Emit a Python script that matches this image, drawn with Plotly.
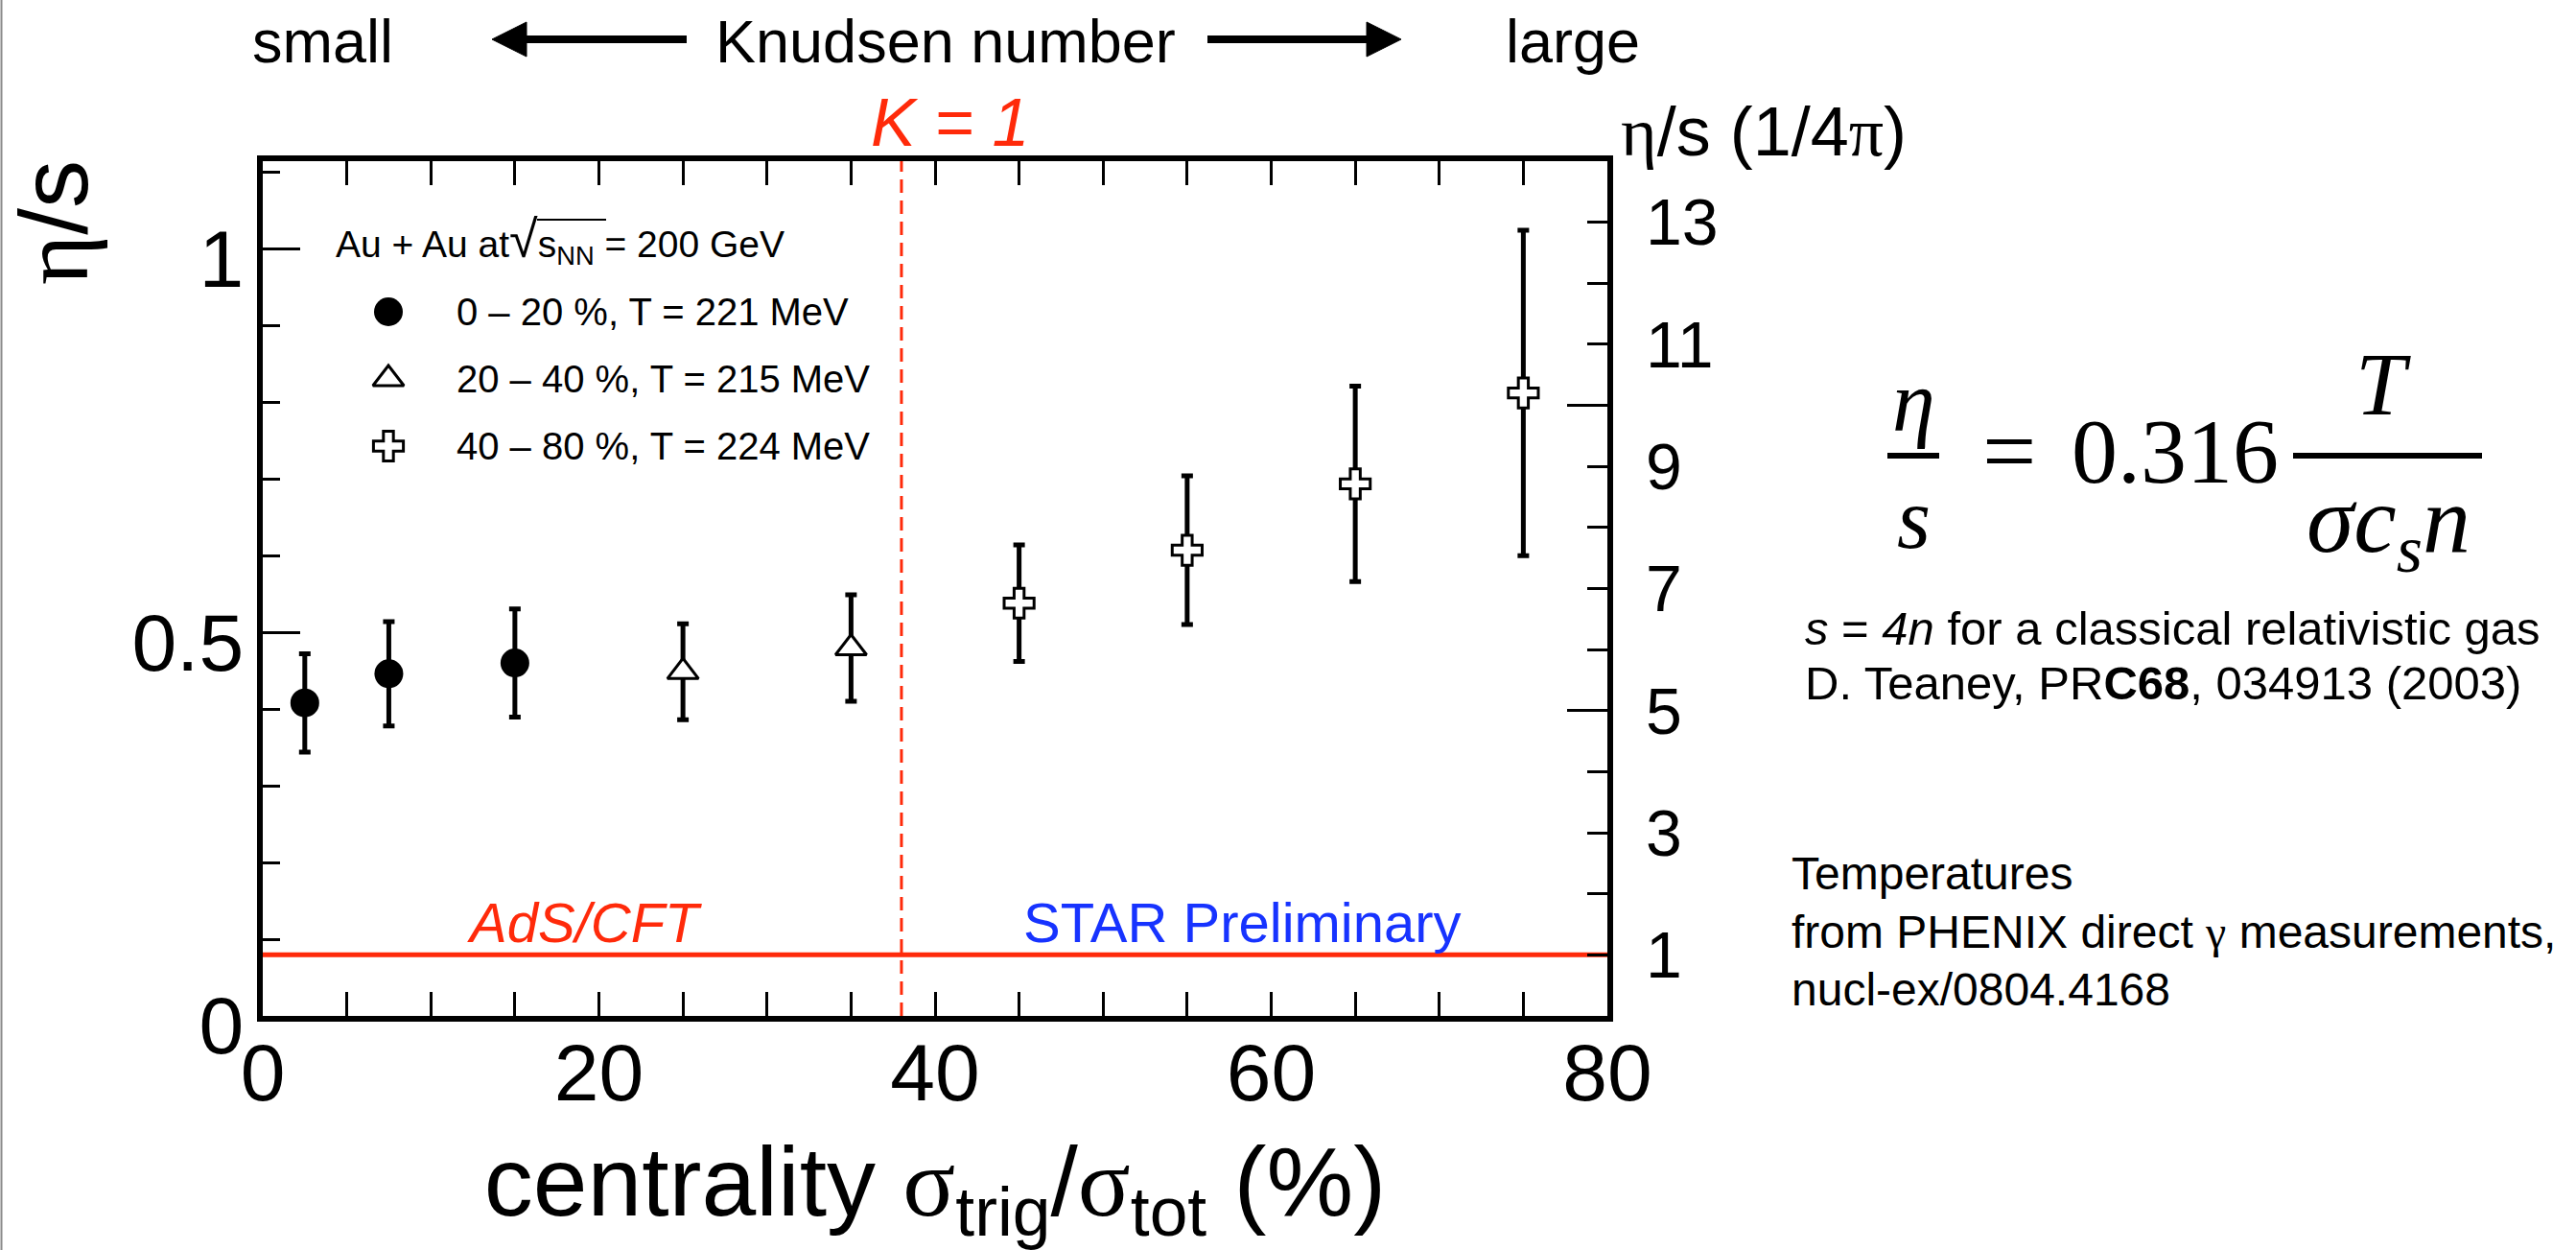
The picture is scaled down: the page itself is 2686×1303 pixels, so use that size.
import numpy as np
import plotly.graph_objects as go

# ---------------- data ----------------
cent_0_20 = [2.5, 7.5, 15.0]
eta_s_0_20 = [0.408, 0.446, 0.460]
err_0_20 = [0.064, 0.068, 0.0705]

cent_20_40 = [25.0, 35.0]
eta_s_20_40 = [0.4485, 0.4795]
err_20_40 = [0.0625, 0.0695]

cent_40_80 = [45.0, 55.0, 65.0, 75.0]
eta_s_40_80 = [0.538, 0.607, 0.6935, 0.812]
err_40_80 = [0.076, 0.097, 0.1275, 0.212]

knudsen_one_cent = 38.0            # K = 1 position
ads_cft_bound = 1.0 / (4.0 * np.pi)  # eta/s = 1/4pi
x_span = [0, 80]

legend_labels = ["0 \u2013 20 %, T = 221 MeV",
                 "20 \u2013 40 %, T = 215 MeV",
                 "40 \u2013 80 %, T = 224 MeV"]

right_tick_vals = [1, 3, 5, 7, 9, 11, 13]
left_tick_vals = [0, 0.5, 1]
left_tick_text = ["0", "0.5", "1"]

# ---------------- layout helpers ----------------
W, H = 2686, 1303
L, R, T, B = 274, 1676, 168, 1059
YMAX = 14.0 / (4.0 * np.pi)
SANS = "Liberation Sans, Arial, Helvetica, sans-serif"
SERIF = "Liberation Serif, Times New Roman, serif"
RED = "#ff2a0a"
BLUE = "#1733ff"


def fx(x):  # pixel -> paper (plot-area fraction)
    return (x - L) / (R - L)


def fy(y):
    return (B - y) / (B - T)


fig = go.Figure()

# AdS/CFT bound line
fig.add_trace(go.Scatter(x=x_span, y=[ads_cft_bound, ads_cft_bound], mode="lines",
                         line=dict(color=RED, width=5), showlegend=False, hoverinfo="skip"))

err_style = dict(type="data", color="black", thickness=5, width=6)

fig.add_trace(go.Scatter(x=cent_0_20, y=eta_s_0_20, mode="markers", name=legend_labels[0],
                         error_y=dict(array=err_0_20, **err_style),
                         marker=dict(symbol="circle", size=30, color="black",
                                     line=dict(color="black", width=0)),
                         showlegend=False))
fig.add_trace(go.Scatter(x=cent_20_40, y=eta_s_20_40, mode="markers", name=legend_labels[1],
                         error_y=dict(array=err_20_40, **err_style),
                         marker=dict(symbol="triangle-up", size=28, color="white",
                                     line=dict(color="black", width=3)),
                         showlegend=False))
fig.add_trace(go.Scatter(x=cent_40_80, y=eta_s_40_80, mode="markers", name=legend_labels[2],
                         error_y=dict(array=err_40_80, **err_style),
                         marker=dict(symbol="cross", size=26, color="white",
                                     line=dict(color="black", width=3)),
                         showlegend=False))

# legend keys on an invisible overlay axis (fractions of plot area)
leg_x = fx(405)
leg_ys = [fy(325), fy(395), fy(465)]
leg_markers = [dict(symbol="circle", size=30, color="black", line=dict(width=0)),
               dict(symbol="triangle-up", size=28, color="white", line=dict(color="black", width=3)),
               dict(symbol="cross", size=26, color="white", line=dict(color="black", width=3))]
for yy, mk in zip(leg_ys, leg_markers):
    fig.add_trace(go.Scatter(x=[leg_x], y=[yy], mode="markers", marker=mk,
                             xaxis="x2", yaxis="y4", showlegend=False, hoverinfo="skip"))

# K = 1 dashed line
fig.add_vline(x=knudsen_one_cent, line=dict(color=RED, width=3, dash="14px,8px"))

axis_common = dict(showgrid=False, zeroline=False, tickcolor="black", tickwidth=3)

fig.update_layout(
    width=W, height=H,
    margin=dict(l=L, r=W - R, t=T, b=H - B, pad=0),
    paper_bgcolor="white", plot_bgcolor="white",
    font=dict(family=SANS, color="black"),
    xaxis=dict(range=[0, 80], tickvals=[0, 20, 40, 60, 80], ticks="inside", ticklen=25,
               showline=True, linewidth=6, linecolor="black", mirror="allticks",
               minor=dict(dtick=5, tick0=0, ticks="inside", ticklen=12, tickwidth=3, tickcolor="black"),
               tickfont=dict(size=84, family=SANS), ticklabelstandoff=-19,
               title=dict(text="centrality <span style='font-family:Liberation Serif'>\u03c3</span><sub>trig</sub>/"
                               "<span style='font-family:Liberation Serif'>\u03c3</span><sub>tot</sub> (%)",
                          font=dict(size=102, family=SANS), standoff=41),
               **axis_common),
    yaxis=dict(range=[0, YMAX], tickvals=left_tick_vals, ticktext=left_tick_text, ticks="inside",
               ticklen=39, showline=True, linewidth=6, linecolor="black", mirror=True,
               minor=dict(dtick=0.1, tick0=0, ticks="inside", ticklen=18, tickwidth=3, tickcolor="black"),
               tickfont=dict(size=84, family=SANS), ticklabelstandoff=-3, ticklabelshift=10,
               **axis_common),
    yaxis2=dict(range=[0, 14], overlaying="y", side="right", anchor="x",
                tickvals=right_tick_vals, ticks="inside", ticklen=21,
                minor=dict(tickvals=[2, 4, 6, 8, 10, 12], ticks="inside", ticklen=21,
                           tickwidth=3, tickcolor="black"),
                showline=False, tickfont=dict(size=68, family=SANS), ticklabelstandoff=39,
                **axis_common),
    yaxis3=dict(range=[0, 14], overlaying="y", side="right", anchor="x",
                tickvals=[5, 10], ticks="inside", ticklen=42, showticklabels=False,
                showline=False, **axis_common),
    xaxis2=dict(range=[0, 1], overlaying="x", visible=False, anchor="y4"),
    yaxis4=dict(range=[0, 1], overlaying="y", visible=False, anchor="x2"),
)

# invisible traces binding the right axes
fig.add_trace(go.Scatter(x=[None], y=[None], yaxis="y2", showlegend=False, hoverinfo="skip"))
fig.add_trace(go.Scatter(x=[None], y=[None], yaxis="y3", showlegend=False, hoverinfo="skip"))

ann = []


def text(x, y, s, size, color="black", family=SANS, xanchor="center", yanchor="middle", angle=0):
    ann.append(dict(x=fx(x), y=fy(y), xref="paper", yref="paper", text=s, showarrow=False,
                    font=dict(size=size, color=color, family=family),
                    xanchor=xanchor, yanchor=yanchor, textangle=angle))


# top row
text(336, 43, "small", 63)
text(986, 43, "Knudsen number", 63)
text(1640, 43, "large", 63)
text(990, 128, "<i>K = 1</i>", 70, color=RED)
text(1688, 138, "<span style='font-family:Liberation Serif'>\u03b7</span>/s (1/4<span style='font-family:Liberation Serif'>\u03c0</span>)",
     72, xanchor="left")

# y title
text(56, 232, "<span style='font-family:Liberation Serif'>\u03b7</span>/s", 100, angle=-90)

# legend box
text(348, 250, "Au + Au at<span style='font-size:54px'>\u221a</span>s<sub>NN</sub> = 200 GeV", 39, xanchor="left")
for lab, yy in zip(legend_labels, [325, 395, 465]):
    text(474, yy, lab, 40, xanchor="left")

# plot labels
text(609, 961, "<i>AdS/CFT</i>", 58, color=RED)
text(1295, 961, "STAR Preliminary", 58, color=BLUE)

# formula
text(1995, 418, "<i>\u03b7</i>", 90, family=SERIF)
text(1995, 540, "<i>s</i>", 90, family=SERIF)
text(2095, 470, "=", 100, family=SERIF)
text(2268, 470, "0.316", 96, family=SERIF)
text(2485, 400, "<i>T</i>", 94, family=SERIF)
text(2490, 548, "<i>\u03c3c<sub>s</sub>n</i>", 100, family=SERIF)

# notes
text(1880, 655, "<i>s</i> = <i>4n</i> for a classical relativistic gas", 49, xanchor="left")
text(1880, 712, "D. Teaney, PR<b>C68</b>, 034913 (2003)", 49, xanchor="left")
text(1866, 910, "Temperatures", 48, xanchor="left")
text(1866, 971, "from PHENIX direct <span style='font-family:Liberation Serif'>\u03b3</span> measurements,", 48, xanchor="left")
text(1866, 1031, "nucl-ex/0804.4168", 48, xanchor="left")

fig.update_layout(annotations=ann)

shapes = []
# fraction bars
shapes.append(dict(type="line", xref="paper", yref="paper", x0=fx(1968), x1=fx(2022), y0=fy(475), y1=fy(475),
                   line=dict(color="black", width=6)))
shapes.append(dict(type="line", xref="paper", yref="paper", x0=fx(2391), x1=fx(2588), y0=fy(475), y1=fy(475),
                   line=dict(color="black", width=6)))
# sqrt overline
shapes.append(dict(type="line", xref="paper", yref="paper", x0=fx(560), x1=fx(632), y0=fy(229), y1=fy(229),
                   line=dict(color="black", width=2)))
# arrows
shapes.append(dict(type="line", xref="paper", yref="paper", x0=fx(545), x1=fx(716), y0=fy(41), y1=fy(41),
                   line=dict(color="black", width=8)))
shapes.append(dict(type="path", xref="paper", yref="paper",
                   path=f"M{fx(513)},{fy(41)} L{fx(549)},{fy(23)} L{fx(549)},{fy(59)} Z",
                   fillcolor="black", line=dict(color="black", width=1)))
shapes.append(dict(type="line", xref="paper", yref="paper", x0=fx(1259), x1=fx(1430), y0=fy(41), y1=fy(41),
                   line=dict(color="black", width=8)))
shapes.append(dict(type="path", xref="paper", yref="paper",
                   path=f"M{fx(1461)},{fy(41)} L{fx(1425)},{fy(23)} L{fx(1425)},{fy(59)} Z",
                   fillcolor="black", line=dict(color="black", width=1)))
# page border on the left
shapes.append(dict(type="line", xref="paper", yref="paper", x0=fx(1.5), x1=fx(1.5), y0=fy(0), y1=fy(H),
                   line=dict(color="#8a8a8a", width=2)))
for s in shapes:
    fig.add_shape(**s)

fig.write_html("out.html")
